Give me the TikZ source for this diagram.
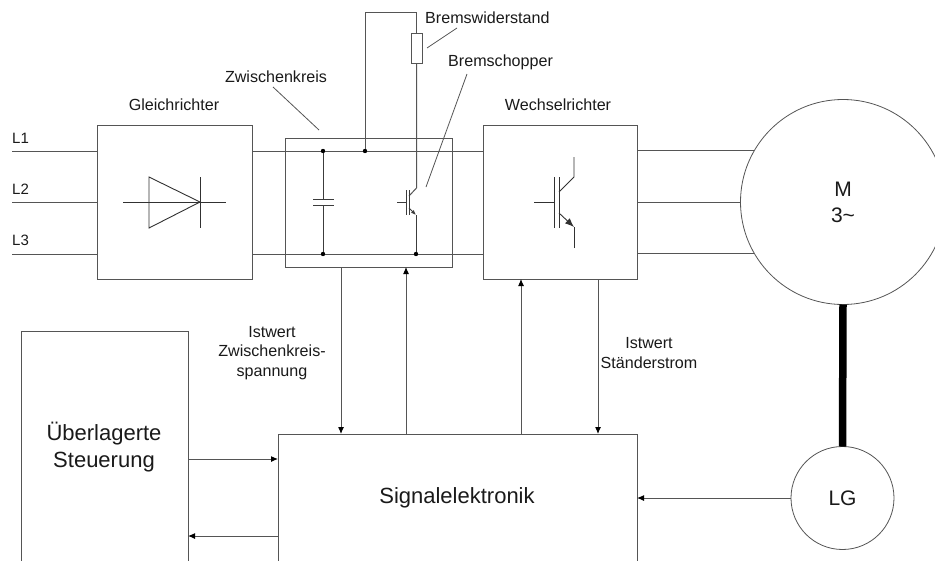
\documentclass[tikz,border=0pt]{standalone}
\usepackage{fontspec}
\setmainfont{Liberation Sans}
\usetikzlibrary{arrows.meta}
\definecolor{wire}{HTML}{555555}
\definecolor{ink}{HTML}{1A1A1A}
\tikzset{
  block/.style={draw=wire,line width=1pt,rectangle,inner sep=0pt,outer sep=0pt,fill=none},
  round block/.style={draw=wire,line width=.8pt,circle,inner sep=0pt,outer sep=0pt,text=ink,font=\fontsize{21}{25}\selectfont,align=center},
  wire line/.style={draw=wire,line width=1pt},
  sym/.style={draw=ink!85,line width=.9pt},
  symbig/.style={draw=ink!90,line width=.9pt},
  sig/.style={draw=wire,line width=1pt,-{Latex[length=7pt,width=6pt,color=black]}},
  small/.style={text=ink,font=\fontsize{16.1}{19.8}\selectfont,align=center,inner sep=0pt},
  large/.style={text=ink,font=\fontsize{22}{27}\selectfont,align=center,inner sep=0pt},
  phase/.style={text=ink,font=\fontsize{15}{18}\selectfont,anchor=west,inner sep=0pt},
  dot/.style={circle,fill=black,inner sep=0pt,minimum size=4.4pt},
  leader/.style={draw=wire,line width=.8pt},
}
\begin{document}
\begin{tikzpicture}[x=1pt,y=-1pt]
\useasboundingbox (0,0) rectangle (935,560);
\clip (0,0) rectangle (935,560);
\fill[white] (0,0) rectangle (935,560);

% Blocks
\node[block,minimum width=155pt,minimum height=154pt] (gr) at (174.5,202) {};
\node[block,minimum width=167pt,minimum height=129pt] (zk) at (368.5,202.5) {};
\node[block,minimum width=154pt,minimum height=154pt] (wr) at (560,202) {};
\node[block,minimum width=359pt,minimum height=160pt] (se) at (457.5,514) {};
\node[block,minimum width=167pt,minimum height=260pt] (us) at (104.5,461) {};
\node[round block,minimum size=205pt] (m) at (843,202) {M\\[1pt]3\textasciitilde};
\node[round block,minimum size=103pt] (lg) at (842.5,498) {LG};

% Text
\node[small] (tgr) at (174,105) {Gleichrichter};
\node[small] (twr) at (558,105) {Wechselrichter};
\node[small] (tzk) at (276,77) {Zwischenkreis};
\node[small,anchor=west] (tbw) at (425,18) {Bremswiderstand};
\node[small,anchor=west] (tbc) at (448,62) {Bremschopper};
\node[small] (tiz) at (272,353) {Istwert\\Zwischenkreis-\\spannung};
\node[small] (tis) at (649,353) {Istwert\\Ständerstrom};
\node[large] (tus) at (104,447) {Überlagerte\\Steuerung};
\node[large] (tse) at (457,498) {Signalelektronik};
\node[phase] (tl1) at (12,138) {L1};
\node[phase] (tl2) at (12,189) {L2};
\node[phase] (tl3) at (12,240) {L3};

% Mains
\coordinate (l1) at (12,151);
\coordinate (l2) at (12,202);
\coordinate (l3) at (12,254);
\draw[wire line] (l1) -- (l1 -| gr.west);
\draw[wire line] (l2) -- (l2 -| gr.west);
\draw[wire line] (l3) -- (l3 -| gr.west);

% DC link rails
\draw[wire line] (l1 -| gr.east) -- (l1 -| wr.west);
\draw[wire line] (l3 -| gr.east) -- (l3 -| wr.west);

% Motor feeds
\draw[wire line] (wr.east |- m.150) -- (m.150);
\draw[wire line] (wr.east |- m.180) -- (m.180);
\draw[wire line] (wr.east |- m.210) -- (m.210);

% Shaft
\draw[draw=black,line width=7.5pt] (m.south) -- (lg.north);

% Diode
\coordinate (dl) at (123,202);
\coordinate (dr) at (226,202);
\draw[symbig] (dl) -- (dr);
\draw[symbig] (149,177) -- (149,228) -- (200,202) -- cycle;
\draw[symbig] (200,177) -- (200,228);

% Big IGBT
\draw[symbig] (534,202) -- (554,202);
\draw[symbig] (554,177) -- (554,228);
\draw[symbig] (559,177) -- (559,228);
\draw[symbig] (574,157) -- (574,177) -- (559,192);
\draw[symbig] (574,248) -- (574,227);
\draw[symbig,-{Latex[length=9pt,width=7pt]}] (559,213) -- (574,227);

% Capacitor
\node[dot] (c1) at (323,151) {};
\node[dot] (c2) at (323,254) {};
\coordinate (cp1) at (323,199.5);
\coordinate (cp2) at (323,205);
\draw[sym] (c1) -- (cp1);
\draw[sym] (c2) -- (cp2);
\draw[sym] (313,199.5) -- (334,199.5);
\draw[sym] (313,205) -- (334,205);

% Brake branch
\node[dot] (b1) at (365,151) {};
\node[dot] (b2) at (416,254) {};
\node[draw=wire,line width=.9pt,rectangle,inner sep=0pt,outer sep=0pt,minimum width=11pt,minimum height=30pt] (rb) at (416.5,48) {};
\coordinate (tc) at (365,12);
\draw[wire line] (b1) -- (tc) -- (tc -| rb.north) -- (rb.north);
\draw[wire line] (rb.south) -- (rb.south |- 0,188) -- (409,196);
\draw[sym] (397,202) -- (406,202);
\draw[sym] (406,190) -- (406,215);
\draw[sym] (409.5,190) -- (409.5,215);
\draw[sym] (b2) -- (416,215);
\draw[sym,-{Latex[length=5pt,width=4pt]}] (409,208) -- (416,215);

% Leaders
\draw[leader] (427,48) -- (457,28);
\draw[leader] (426,187) -- (467,74);
\draw[leader] (273,87) -- (319,130);

% Signals
\coordinate (a1) at (341,0);
\coordinate (a2) at (406,0);
\coordinate (a3) at (521,0);
\coordinate (a4) at (598,0);
\coordinate (h1) at (0,459);
\coordinate (h2) at (0,536);
\draw[sig] (a1 |- zk.south) -- (a1 |- se.north);
\draw[sig] (a2 |- se.north) -- (a2 |- zk.south);
\draw[sig] (a3 |- se.north) -- (a3 |- wr.south);
\draw[sig] (a4 |- wr.south) -- (a4 |- se.north);
\draw[sig] (h1 -| us.east) -- (h1 -| se.west);
\draw[sig] (h2 -| se.west) -- (h2 -| us.east);
\draw[sig] (lg.west) -- (lg.west -| se.east);
\end{tikzpicture}
\end{document}
